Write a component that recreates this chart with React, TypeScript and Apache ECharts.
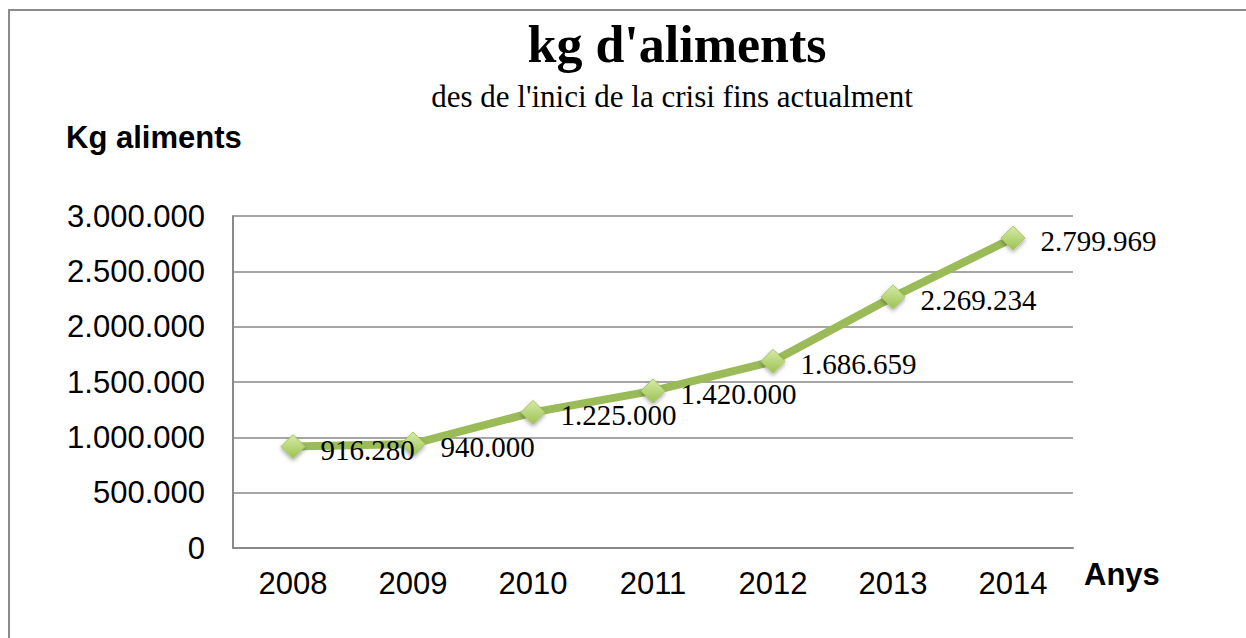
import React, { useEffect, useRef } from "react";
import * as echarts from "echarts";

const years = ["2008", "2009", "2010", "2011", "2012", "2013", "2014"];
const kgValues = [916280, 940000, 1225000, 1420000, 1686659, 2269234, 2799969];
const titleText = "kg d'aliments";
const subtitleText = "des de l'inici de la crisi fins actualment";
const yAxisTitle = "Kg aliments";
const xAxisTitle = "Anys";

const fmt = (v: number) => String(Math.round(v)).replace(/\B(?=(\d{3})+(?!\d))/g, ".");

export default function App() {
  const ref = useRef<HTMLDivElement>(null);
  useEffect(() => {
    const chart = echarts.init(ref.current!, null, { renderer: "svg" });
    chart.setOption({
      animation: false,
      backgroundColor: "#ffffff",
      title: [
        {
          text: titleText,
          left: 672,
          textAlign: "center",
          top: 13,
          textStyle: { fontFamily: "Liberation Serif", fontWeight: "bold", fontSize: 52, color: "#000" },
        },
        {
          text: subtitleText,
          left: 667,
          textAlign: "center",
          top: 76,
          textStyle: { fontFamily: "Liberation Serif", fontWeight: "normal", fontSize: 31, color: "#000" },
        },
      ],
      graphic: [
        {
          type: "rect",
          shape: { x: 9, y: 10, width: 1300, height: 700 },
          style: { fill: "none", stroke: "#8c8c8c", lineWidth: 2 },
          silent: true,
        },
        {
          type: "text",
          left: 66,
          top: 122,
          style: { text: yAxisTitle, font: "bold 31px 'Liberation Sans'", fill: "#000" },
        },
        {
          type: "text",
          left: 1084,
          top: 559,
          style: { text: xAxisTitle, font: "bold 31px 'Liberation Sans'", fill: "#000" },
        },
      ],
      grid: { left: 233, right: 173, top: 216, bottom: 90, containLabel: false },
      xAxis: {
        type: "category",
        data: years,
        boundaryGap: true,
        axisLine: { lineStyle: { color: "#898989", width: 2 } },
        axisTick: { show: false },
        axisLabel: { fontFamily: "Liberation Sans", fontSize: 31, color: "#000", margin: 20 },
      },
      yAxis: {
        type: "value",
        min: 0,
        max: 3000000,
        interval: 500000,
        axisLine: { show: true, lineStyle: { color: "#898989", width: 2 } },
        axisTick: { show: false },
        splitLine: { lineStyle: { color: "#898989", width: 1.5 } },
        axisLabel: {
          fontFamily: "Liberation Sans",
          fontSize: 31,
          color: "#000",
          margin: 28,
          formatter: (v: number) => fmt(v),
        },
      },
      series: [
        {
          type: "line",
          data: kgValues,
          lineStyle: { color: "#9bbb59", width: 8 },
          symbol: "diamond",
          symbolSize: 24,
          itemStyle: {
            color: new echarts.graphic.LinearGradient(0, 0, 0, 1, [
              { offset: 0, color: "#d7eba8" },
              { offset: 1, color: "#9cc24f" },
            ]),
            borderColor: "#a6c865",
            borderWidth: 1,
            shadowColor: "rgba(0,0,0,0.35)",
            shadowBlur: 4,
            shadowOffsetY: 2,
          },
          label: {
            show: true,
            position: "right",
            distance: 15,
            offset: [0, 3],
            fontFamily: "Liberation Serif",
            fontSize: 29,
            color: "#000",
            formatter: (p: any) => fmt(p.value),
          },
        },
      ],
    });
    return () => chart.dispose();
  }, []);
  return <div ref={ref} style={{ position: "fixed", left: 0, top: 0, width: 1246, height: 638 }} />;
}
